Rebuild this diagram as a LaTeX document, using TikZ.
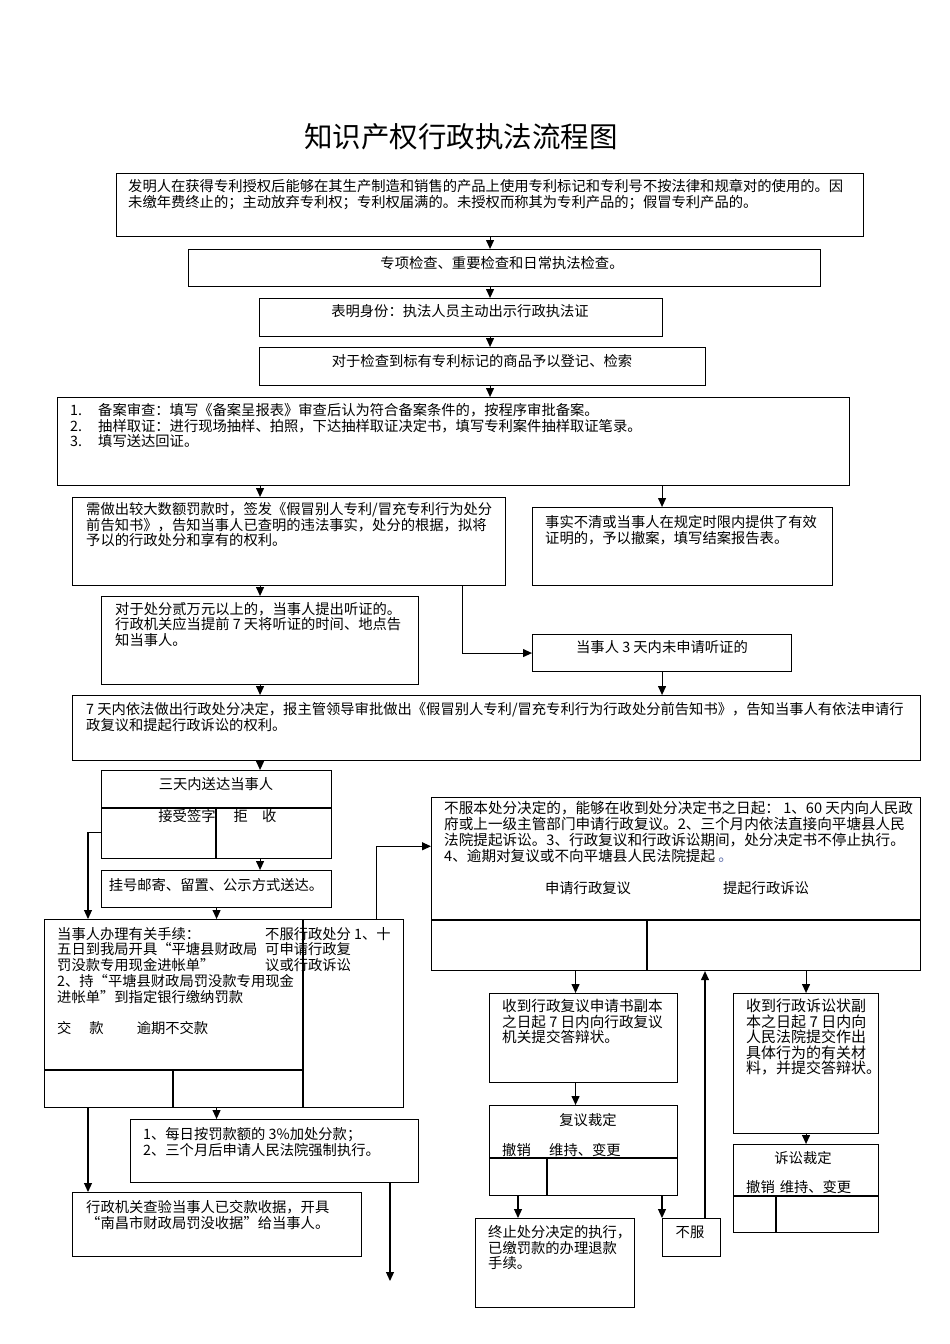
\documentclass[tikz,border=0pt]{standalone}
\usepackage{fontspec}
\setmainfont{Noto Sans CJK SC}
\usetikzlibrary{arrows.meta,calc}
\newcommand{\bodysize}{\fontsize{14.3}{15.7}\selectfont}
\newcommand{\widesize}{\fontsize{14.6}{16}\selectfont}
\newcommand{\numitem}[1]{\makebox[28pt][l]{#1}}
\tikzset{
  box/.style={draw, line width=1.1pt, inner sep=0pt, anchor=north west},
  txt/.style={font=\bodysize, align=left, inner sep=0pt, anchor=north west},
  ctxt/.style={font=\bodysize, inner sep=0pt, anchor=north},
  arr/.style={line width=1.1pt, -{Triangle[length=9pt,width=8pt]}},
}

\begin{document}
\begin{tikzpicture}[x=1pt,y=-1pt]
\useasboundingbox (0,0) rectangle (950,1344);
\node[font=\fontsize{28.5}{30}\selectfont, inner sep=0pt] (title) at (461,137) {知识产权行政执法流程图};

% boxes
\node[box, minimum width=747pt, minimum height=63pt] (facts) at (116,173) {};
\node[box, minimum width=632pt, minimum height=37pt] (check) at (188,249) {};
\node[box, minimum width=403pt, minimum height=38pt] (ident) at (259,298) {};
\node[box, minimum width=446pt, minimum height=38pt] (record) at (259,347) {};
\node[box, minimum width=792pt, minimum height=88pt] (filing) at (57,397) {};
\node[box, minimum width=433pt, minimum height=88pt] (notice) at (72,497) {};
\node[box, minimum width=300pt, minimum height=78pt] (dismiss) at (532,507) {};
\node[box, minimum width=317pt, minimum height=88pt] (hearing) at (101,596) {};
\node[box, minimum width=259pt, minimum height=37pt] (noheard) at (532,634) {};
\node[box, minimum width=848pt, minimum height=65pt] (decision) at (72,695) {};
\node[box, minimum width=230pt, minimum height=88pt] (deliver) at (101,770) {};
\node[box, minimum width=230pt, minimum height=37pt] (post) at (101,870) {};
\node[box, minimum width=359pt, minimum height=188pt] (pay) at (44,919) {};
\node[box, minimum width=489pt, minimum height=173pt] (appeal) at (431,797) {};
\node[box, minimum width=288pt, minimum height=63pt] (surcharge) at (130,1119) {};
\node[box, minimum width=289pt, minimum height=64pt] (receipt) at (72,1192) {};
\node[box, minimum width=188pt, minimum height=89pt] (review) at (489,993) {};
\node[box, minimum width=188pt, minimum height=90pt] (rdecide) at (489,1105) {};
\node[box, minimum width=145pt, minimum height=140pt] (suit) at (733,993) {};
\node[box, minimum width=145pt, minimum height=88pt] (sdecide) at (733,1144) {};
\node[box, minimum width=159pt, minimum height=89pt] (stop) at (475,1218) {};
\node[box, minimum width=58pt, minimum height=38pt] (refuse) at (662,1218) {};

% dividers
\draw[line width=1.1pt] (101,808) -- (331,808) (216,808) -- (216,858);
\draw[line width=1.1pt] (303,919) -- (303,1107) (44,1070) -- (303,1070) (173,1070) -- (173,1107);
\draw[line width=1.1pt] (431,920) -- (920,920) (647,920) -- (647,970);
\draw[line width=1.1pt] (489,1158) -- (677,1158) (547,1158) -- (547,1195);
\draw[line width=1.1pt] (733,1196) -- (878,1196) (776,1196) -- (776,1232);

% texts
\node[txt] (factstxt) at (128,179) {发明人在获得专利授权后能够在其生产制造和销售的产品上使用专利标记和专利号不按法律和规章对的使用的。因\\未缴年费终止的；主动放弃专利权；专利权届满的。未授权而称其为专利产品的；假冒专利产品的。};
\node[ctxt] (checktxt) at (502,256) {专项检查、重要检查和日常执法检查。};
\node[ctxt] (identtxt) at (460,304) {表明身份：执法人员主动出示行政执法证};
\node[ctxt] (recordtxt) at (482,354) {对于检查到标有专利标记的商品予以登记、检索};
\node[txt] (filingtxt) at (70,403) {\numitem{1.}备案审查：填写《备案呈报表》审查后认为符合备案条件的，按程序审批备案。\\
\numitem{2.}抽样取证：进行现场抽样、拍照，下达抽样取证决定书，填写专利案件抽样取证笔录。\\
\numitem{3.}填写送达回证。};
\node[txt] (noticetxt) at (86,502) {需做出较大数额罚款时，签发《假冒别人专利/冒充专利行为处分\\前告知书》，告知当事人已查明的违法事实，处分的根据，拟将\\予以的行政处分和享有的权利。};
\node[txt] (dismisstxt) at (545,515) {事实不清或当事人在规定时限内提供了有效\\证明的，予以撤案，填写结案报告表。};
\node[txt] (hearingtxt) at (115,602) {对于处分贰万元以上的，当事人提出听证的。\\行政机关应当提前 7 天将听证的时间、地点告\\知当事人。};
\node[ctxt] (noheardtxt) at (662,640) {当事人 3 天内未申请听证的};
\node[txt] (decisiontxt) at (86,702) {7 天内依法做出行政处分决定，报主管领导审批做出《假冒别人专利/冒充专利行为行政处分前告知书》，告知当事人有依法申请行\\政复议和提起行政诉讼的权利。};
\node[ctxt] (delivertxt) at (216,777) {三天内送达当事人};
\node[font=\bodysize, inner sep=0pt] (signtxt) at (187,816) {接受签字};
\node[font=\bodysize, inner sep=0pt] (rejecttxt) at (255,816) {拒\hspace{14pt}收};
\node[ctxt] (posttxt) at (216,878) {挂号邮寄、留置、公示方式送达。};
\node[txt] (paytxt) at (57,927) {当事人办理有关手续：\\五日到我局开具“平塘县财政局\\罚没款专用现金进帐单”\\2、持“平塘县财政局罚没款专用现金\\进帐单”到指定银行缴纳罚款\\[15.7pt]交\hspace{18pt}款\hspace{33pt}逾期不交款};
\node[txt] (objecttxt) at (265,927) {不服行政处分 1、十\\可申请行政复\\议或行政诉讼};
\node[txt, font=\widesize] (appealtxt) at (444,801) {不服本处分决定的，能够在收到处分决定书之日起： 1、60 天内向人民政\\府或上一级主管部门申请行政复议。2、三个月内依法直接向平塘县人民\\法院提起诉讼。3、行政复议和行政诉讼期间，处分决定书不停止执行。\\4、逾期对复议或不向平塘县人民法院提起 {\color[HTML]{5B6BA8}。}};
\node[font=\bodysize, inner sep=0pt] (reviewlbl) at (588,888) {申请行政复议};
\node[font=\bodysize, inner sep=0pt] (suitlbl) at (766,888) {提起行政诉讼};
\node[txt] (surchargetxt) at (143,1127) {1、每日按罚款额的 3\%加处分款；\\2、三个月后申请人民法院强制执行。};
\node[txt] (receipttxt) at (86,1200) {行政机关查验当事人已交款收据，开具\\“南昌市财政局罚没收据”给当事人。};
\node[txt, font=\fontsize{14.6}{15.7}\selectfont] (reviewtxt) at (502,999) {收到行政复议申请书副本\\之日起 7 日内向行政复议\\机关提交答辩状。};
\node[font=\bodysize, inner sep=0pt] (rdecidetxt) at (588,1120) {复议裁定};
\node[font=\bodysize, inner sep=0pt, anchor=west] (rcancel) at (502,1150) {撤销};
\node[font=\bodysize, inner sep=0pt, anchor=west] (rkeep) at (549,1150) {维持、变更};
\node[txt] (stoptxt) at (488,1225) {终止处分决定的执行，\\已缴罚款的办理退款\\手续。};
\node[font=\bodysize, inner sep=0pt] (refusetxt) at (690,1232) {不服};
\node[txt, font=\fontsize{15}{15.5}\selectfont] (suittxt) at (746,999) {收到行政诉讼状副\\本之日起 7 日内向\\人民法院提交作出\\具体行为的有关材\\料，并提交答辩状。};
\node[font=\bodysize, inner sep=0pt] (sdecidetxt) at (803,1158) {诉讼裁定};
\node[font=\bodysize, inner sep=0pt, anchor=west] (skeep) at (746,1187) {撤销\hspace{5pt}维持、变更};

% connectors
\draw[arr] (facts.south) -- (facts.south |- check.north);
\draw[arr] (facts.south |- check.south) -- (facts.south |- ident.north);
\draw[arr] (facts.south |- ident.south) -- (facts.south |- record.north);
\draw[arr] (facts.south |- record.south) -- (facts.south |- filing.north);
\draw[arr] (hearing.north |- filing.south) -- (hearing.north |- notice.north);
\draw[arr] (noheard.north |- filing.south) -- (noheard.north |- dismiss.north);
\draw[arr] (hearing.north |- notice.south) -- (hearing.north);
\draw[arr] ($(notice.south west)!0.9!(notice.south east)$) |- (noheard.west);
\draw[arr] (hearing.south) -- (hearing.south |- decision.north);
\draw[arr] (noheard.south) -- (noheard.south |- decision.north);
\draw[arr] (hearing.south |- decision.south) -- (hearing.south |- deliver.north);
\draw[arr] (hearing.south |- deliver.south) -- (hearing.south |- post.north);
\draw[arr] (post.south) -- (post.south |- pay.north);
\coordinate (payt) at ($(pay.north west)+(44,0)$);
\coordinate (payl) at ($(pay.south west)+(44,0)$);
\coordinate (payr) at ($(pay.north east)+(-28,0)$);
\draw[arr] ($(deliver.north west)!0.705!(deliver.south west)$) -| (payt);
\draw[arr] (payl) -- (payl |- receipt.north);
\draw[arr] (post.south |- pay.south) -- (post.south |- surcharge.north);
\draw[arr] (payr) |- ($(appeal.north west)!0.283!(appeal.south west)$);
\coordinate (tail) at (390,1281);
\draw[arr] (surcharge.south -| tail) -- (tail);
\coordinate (revx) at ($(review.north)+(-8,0)$);
\draw[arr] (revx |- appeal.south) -- (revx);
\draw[arr] (revx |- review.south) -- (revx |- rdecide.north);
\draw[arr] (suit.north |- appeal.south) -- (suit.north);
\draw[arr] (suit.south) -- (sdecide.north);
\coordinate (stopx) at ($(rdecide.south west)+(29,0)$);
\draw[arr] (stopx) -- (stopx |- stop.north);
\draw[arr] (rdecide.south -| refuse.west) -- (refuse.north west);
\coordinate (upx) at ($(refuse.north west)+(43,0)$);
\draw[arr] (upx) -- (upx |- appeal.south);
\end{tikzpicture}
\end{document}
